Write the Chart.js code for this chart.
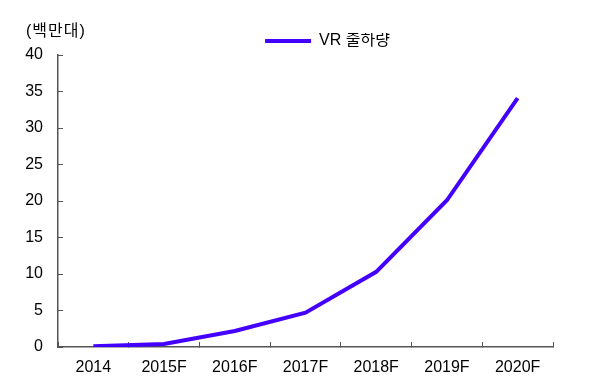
<!DOCTYPE html>
<html lang="ko">
<head>
    <meta charset="UTF-8">
    <title>VR 출하량</title>
    <script src="https://cdn.jsdelivr.net/npm/chart.js"></script>
    <style>
        body { margin: 0; background: #fff; }
        #wrap { position: relative; width: 592px; height: 390px; }
        #unit {
            position: absolute; left: 26px; top: 17px;
            font: 16px "Liberation Sans", Arial, "Noto Sans CJK KR", sans-serif;
            letter-spacing: 1px;
            color: #000;
        }
    </style>
</head>
<body>
<div id="wrap">
    <canvas id="vrChart" width="592" height="390"></canvas>
    <div id="unit">(백만대)</div>
</div>
<script>
// dati (milioni di unità)
const years = ['2014', '2015F', '2016F', '2017F', '2018F', '2019F', '2020F'];
const shipments = [0.1, 0.4, 2.2, 4.7, 10.3, 20.1, 34.1];
const seriesName = 'VR 출하량';
const yTicks = [0, 5, 10, 15, 20, 25, 30, 35, 40];

const FONT = '"Liberation Sans", Arial, "Noto Sans CJK KR", sans-serif';
const LINE = '#4400ff';
const AXIS = '#555555';

// sposta la legenda come nell'originale
const shiftLegend = {
    id: 'shiftLegend',
    afterLayout(chart) {
        const lg = chart.legend;
        if (lg) {
            lg.left += 51;
            lg.right += 51;
            lg.top += 4;
            lg.bottom += 4;
        }
    }
};

new Chart(document.getElementById('vrChart'), {
    type: 'line',
    data: {
        labels: years,
        datasets: [{
            label: seriesName,
            data: shipments,
            borderColor: LINE,
            backgroundColor: LINE,
            borderWidth: 4,
            pointRadius: 0,
            tension: 0
        }]
    },
    options: {
        responsive: false,
        animation: false,
        layout: { padding: { top: 29, right: 39, left: 0, bottom: 0 } },
        plugins: {
            legend: {
                position: 'top',
                labels: {
                    usePointStyle: true,
                    pointStyle: 'line',
                    pointStyleWidth: 46,
                    color: '#000',
                    padding: 0,
                    font: { family: FONT, size: 16 }
                }
            },
            tooltip: { enabled: false }
        },
        scales: {
            x: {
                offset: true,
                grid: { offset: true, drawOnChartArea: false, tickLength: -5, color: AXIS, lineWidth: 1 },
                border: { color: AXIS, width: 1.5 },
                ticks: { color: '#000', padding: 16, maxRotation: 0, font: { family: FONT, size: 16 } },
                afterFit(scale) { scale.height = 43; }
            },
            y: {
                min: 0,
                max: 40,
                afterBuildTicks(scale) { scale.ticks = yTicks.map(v => ({ value: v })); },
                grid: { drawOnChartArea: false, tickLength: -5, color: AXIS, lineWidth: 1 },
                border: { color: AXIS, width: 1.5 },
                ticks: { color: '#000', padding: 20, font: { family: FONT, size: 16 } },
                afterFit(scale) { scale.width = 58; }
            }
        }
    },
    plugins: [shiftLegend]
});
</script>
</body>
</html>
